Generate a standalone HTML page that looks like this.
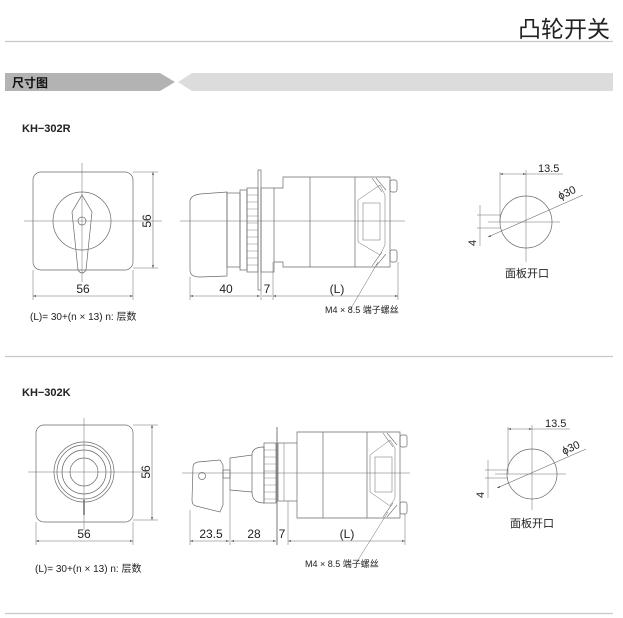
<!DOCTYPE html>
<html><head><meta charset="utf-8"><style>
html,body{margin:0;padding:0;background:#fff;}
svg{display:block;font-family:"Liberation Sans","Noto Sans CJK SC",sans-serif;}
</style></head><body>
<svg width="623" height="618" viewBox="0 0 623 618" xmlns="http://www.w3.org/2000/svg">
<defs>
<marker id="a" viewBox="0 0 10 10" refX="10" refY="5" markerWidth="7" markerHeight="5" orient="auto-start-reverse"><path d="M0,2 L10,5 L0,8z" fill="#444"/></marker>
</defs>
<text x="610" y="37" font-size="23" text-anchor="end" fill="#222" font-family="Noto Sans CJK SC,sans-serif">凸轮开关</text>
<line x1="5" y1="41.5" x2="613" y2="41.5" stroke="#c8c8c8" stroke-width="1.2"/>
<polygon points="5,73 160,73 175,82 160,91 5,91" fill="#b3b3b3"/>
<polygon points="178,82 192,73 613,73 613,91 192,91" fill="#dcdcdc"/>
<text x="12" y="87" font-size="12" font-weight="bold" fill="#111" font-family="Noto Sans CJK SC,sans-serif">尺寸图</text>

<g stroke="#6a6a6a" fill="none" stroke-width="0.7">
<rect x="33" y="172" width="100" height="98" rx="8" />
<line x1="24" y1="221" x2="162" y2="221" stroke-width="0.5"/>
<line x1="82" y1="163" x2="82" y2="282" stroke-width="0.5"/>
<circle cx="82" cy="221" r="29"/>
<path d="M82,195 L92,212 L86,270 Q82,276 78,270 L72,212 Z"/>
<circle cx="82" cy="221" r="4"/>
<line x1="133" y1="172" x2="158" y2="172" stroke-width="0.5"/>
<line x1="133" y1="268" x2="158" y2="268" stroke-width="0.5"/>
<line x1="153" y1="172" x2="153" y2="268" marker-start="url(#a)" marker-end="url(#a)" stroke-width="0.6"/>
<line x1="33" y1="270" x2="33" y2="300" stroke-width="0.5"/>
<line x1="133" y1="270" x2="133" y2="300" stroke-width="0.5"/>
<line x1="33" y1="296" x2="133" y2="296" marker-start="url(#a)" marker-end="url(#a)" stroke-width="0.6"/>

<line x1="180" y1="221" x2="405" y2="221" stroke-width="0.5"/>
<path d="M190,200 Q192,195 200,194 L227,192 L227,276 L200,277 Q190,277 190,270 Z"/>
<rect x="227" y="193" width="13" height="74"/>
<rect x="240" y="190" width="7" height="80"/>
<rect x="247" y="188" width="11" height="84"/>
<g stroke-width="0.4"><line x1="247" y1="195" x2="258" y2="195"/><line x1="247" y1="202" x2="258" y2="202"/><line x1="247" y1="209" x2="258" y2="209"/><line x1="247" y1="216" x2="258" y2="216"/><line x1="247" y1="223" x2="258" y2="223"/><line x1="247" y1="230" x2="258" y2="230"/><line x1="247" y1="237" x2="258" y2="237"/><line x1="247" y1="244" x2="258" y2="244"/><line x1="247" y1="251" x2="258" y2="251"/><line x1="247" y1="258" x2="258" y2="258"/><line x1="247" y1="265" x2="258" y2="265"/></g>
<rect x="258" y="170" width="3" height="120"/>
<rect x="261" y="188" width="13" height="84"/>
<path d="M274,188 L283,188 L283,177 L355,177 L355,267 L283,267 L283,262 L274,262"/>
<line x1="310" y1="177" x2="310" y2="267"/>
<path d="M355,177 L390,177 L390,267 L355,267"/>
<path d="M358,200 L380,185 L385,195 L385,245 L380,255 L358,242 Z" stroke-width="0.5"/>
<rect x="363" y="203" width="17" height="37" stroke-width="0.5"/>
<path d="M372,178 L382,192 M376,178 L386,190" stroke-width="0.6"/>
<path d="M372,266 L382,252 M376,266 L386,254" stroke-width="0.6"/>
<rect x="390" y="180" width="7" height="12" rx="2"/>
<rect x="390" y="250" width="7" height="12" rx="2"/>
<line x1="190" y1="277" x2="190" y2="300" stroke-width="0.5"/>
<line x1="261" y1="290" x2="261" y2="300" stroke-width="0.5"/>
<line x1="273" y1="262" x2="273" y2="300" stroke-width="0.5"/>
<line x1="398" y1="262" x2="398" y2="300" stroke-width="0.5"/>
<line x1="190" y1="296" x2="260" y2="296" marker-start="url(#a)" marker-end="url(#a)" stroke-width="0.6"/>
<line x1="273" y1="296" x2="398" y2="296" marker-start="url(#a)" marker-end="url(#a)" stroke-width="0.6"/>
<line x1="262" y1="296" x2="272" y2="296" stroke-width="0.6"/>
<line x1="378" y1="262" x2="350" y2="310" stroke-width="0.5"/>

<circle cx="526" cy="222" r="26"/>
<line x1="488" y1="222" x2="560" y2="222" stroke-width="0.5"/>
<line x1="526" y1="170" x2="526" y2="262" stroke-width="0.5"/>
<line x1="500" y1="172" x2="500" y2="222" stroke-width="0.5"/>
<line x1="500" y1="174" x2="526" y2="174" marker-start="url(#a)" marker-end="url(#a)" stroke-width="0.6"/>
<line x1="526" y1="174" x2="563" y2="174" stroke-width="0.5"/>
<line x1="488" y1="237" x2="583" y2="195" stroke-width="0.6" marker-start="url(#a)"/>
<line x1="477" y1="215" x2="500" y2="215" stroke-width="0.5"/>
<line x1="477" y1="228" x2="500" y2="228" stroke-width="0.5"/>
<line x1="480" y1="205" x2="480" y2="246" stroke-width="0.5"/>

<rect x="36" y="425" width="97" height="97" rx="8"/>
<line x1="28" y1="472" x2="150" y2="472" stroke-width="0.5"/>
<line x1="84" y1="418" x2="84" y2="530" stroke-width="0.5"/>
<circle cx="84" cy="472" r="30"/>
<circle cx="84" cy="472" r="27"/>
<circle cx="84" cy="472" r="22"/>
<circle cx="84" cy="472" r="14"/>
<line x1="84" y1="500" x2="84" y2="515" stroke-width="1.5"/>
<line x1="133" y1="425" x2="158" y2="425" stroke-width="0.5"/>
<line x1="133" y1="520" x2="158" y2="520" stroke-width="0.5"/>
<line x1="152" y1="425" x2="152" y2="520" marker-start="url(#a)" marker-end="url(#a)" stroke-width="0.6"/>
<line x1="36" y1="522" x2="36" y2="545" stroke-width="0.5"/>
<line x1="133" y1="522" x2="133" y2="545" stroke-width="0.5"/>
<line x1="36" y1="541" x2="133" y2="541" marker-start="url(#a)" marker-end="url(#a)" stroke-width="0.6"/>

<line x1="182" y1="473" x2="410" y2="473" stroke-width="0.5"/>
<path d="M193,467 Q193,463 198,462 L220,460 L223,465 L223,505 L220,512 L196,506 Q192,505 192,500 Z"/>
<circle cx="202" cy="476" r="3.5"/>
<rect x="223" y="470" width="7" height="8"/>
<path d="M230,458 L252,455 L252,492 L230,490 Z"/>
<path d="M252,455 Q252,447 264,447 L264,503 Q252,503 252,492"/>
<rect x="264" y="443" width="12" height="60"/>
<g stroke-width="0.4"><line x1="264" y1="450" x2="276" y2="450"/><line x1="264" y1="457" x2="276" y2="457"/><line x1="264" y1="464" x2="276" y2="464"/><line x1="264" y1="471" x2="276" y2="471"/><line x1="264" y1="478" x2="276" y2="478"/><line x1="264" y1="485" x2="276" y2="485"/><line x1="264" y1="492" x2="276" y2="492"/><line x1="264" y1="499" x2="276" y2="499"/></g>
<line x1="277" y1="427" x2="277" y2="545" stroke-width="0.9"/>
<rect x="278" y="443" width="19" height="58"/>
<line x1="284" y1="443" x2="284" y2="501" stroke-width="0.5"/>
<path d="M297,443 L297,432 L367,432 L367,518 L297,518 L297,501"/>
<line x1="323" y1="432" x2="323" y2="518"/>
<path d="M367,432 L400,432 L400,518 L367,518"/>
<path d="M370,455 L390,440 L395,448 L395,498 L390,506 L370,492 Z" stroke-width="0.5"/>
<rect x="375" y="457" width="17" height="35" stroke-width="0.5"/>
<path d="M383,433 L393,447 M387,433 L397,445" stroke-width="0.6"/>
<path d="M383,517 L393,503 M387,517 L397,505" stroke-width="0.6"/>
<rect x="400" y="435" width="7" height="12" rx="2"/>
<rect x="400" y="502" width="7" height="12" rx="2"/>
<line x1="190" y1="510" x2="190" y2="545" stroke-width="0.5"/>
<line x1="230" y1="490" x2="230" y2="545" stroke-width="0.5"/>
<line x1="288" y1="501" x2="288" y2="545" stroke-width="0.5"/>
<line x1="405" y1="514" x2="405" y2="545" stroke-width="0.5"/>
<line x1="190" y1="541" x2="229" y2="541" marker-start="url(#a)" marker-end="url(#a)" stroke-width="0.6"/>
<line x1="231" y1="541" x2="276" y2="541" marker-start="url(#a)" marker-end="url(#a)" stroke-width="0.6"/>
<line x1="288" y1="541" x2="405" y2="541" marker-start="url(#a)" marker-end="url(#a)" stroke-width="0.6"/>
<line x1="388" y1="512" x2="358" y2="560" stroke-width="0.5"/>

<circle cx="532" cy="474" r="25"/>
<line x1="495" y1="474" x2="566" y2="474" stroke-width="0.5"/>
<line x1="532" y1="425" x2="532" y2="510" stroke-width="0.5"/>
<line x1="508" y1="427" x2="508" y2="474" stroke-width="0.5"/>
<line x1="508" y1="429" x2="532" y2="429" marker-start="url(#a)" marker-end="url(#a)" stroke-width="0.6"/>
<line x1="532" y1="429" x2="570" y2="429" stroke-width="0.5"/>
<line x1="497" y1="488" x2="586" y2="449" stroke-width="0.6" marker-start="url(#a)"/>
<line x1="485" y1="470" x2="508" y2="470" stroke-width="0.5"/>
<line x1="485" y1="478" x2="508" y2="478" stroke-width="0.5"/>
<line x1="488" y1="460" x2="488" y2="498" stroke-width="0.5"/>
</g>

<line x1="5" y1="356.5" x2="613" y2="356.5" stroke="#c8c8c8" stroke-width="1.2"/>
<line x1="5" y1="613.5" x2="613" y2="613.5" stroke="#c8c8c8" stroke-width="1.2"/>

<g fill="#222" font-size="11">
<text x="22" y="132" font-weight="bold">KH−302R</text>
<text x="83" y="293" text-anchor="middle" font-size="12">56</text>
<text transform="translate(151,221) rotate(-90)" text-anchor="middle" font-size="12">56</text>
<text x="30" y="320" font-size="10">(L)= 30+(n × 13)  n: 层数</text>
<text x="226" y="293" text-anchor="middle" font-size="12">40</text>
<text x="267" y="293" text-anchor="middle" font-size="12">7</text>
<text x="337" y="293" text-anchor="middle" font-size="12">(L)</text>
<text x="325" y="313" font-size="9">M4 × 8.5 端子螺丝</text>
<text x="538" y="172" font-size="11">13.5</text>
<text transform="translate(560,200) rotate(-25)" font-size="11">ϕ30</text>
<text transform="translate(476,246) rotate(-90)" font-size="11">4</text>
<text x="505" y="277" font-size="11">面板开口</text>

<text x="22" y="396" font-weight="bold">KH−302K</text>
<text x="84" y="538" text-anchor="middle" font-size="12">56</text>
<text transform="translate(150,472) rotate(-90)" text-anchor="middle" font-size="12">56</text>
<text x="35" y="572" font-size="10">(L)= 30+(n × 13)  n: 层数</text>
<text x="211" y="538" text-anchor="middle" font-size="12">23.5</text>
<text x="254" y="538" text-anchor="middle" font-size="12">28</text>
<text x="282" y="538" text-anchor="middle" font-size="12">7</text>
<text x="347" y="538" text-anchor="middle" font-size="12">(L)</text>
<text x="305" y="567" font-size="9">M4 × 8.5 端子螺丝</text>
<text x="545" y="427" font-size="11">13.5</text>
<text transform="translate(564,455) rotate(-25)" font-size="11">ϕ30</text>
<text transform="translate(484,498) rotate(-90)" font-size="11">4</text>
<text x="510" y="527" font-size="11">面板开口</text>
</g>
</svg>
</body></html>
